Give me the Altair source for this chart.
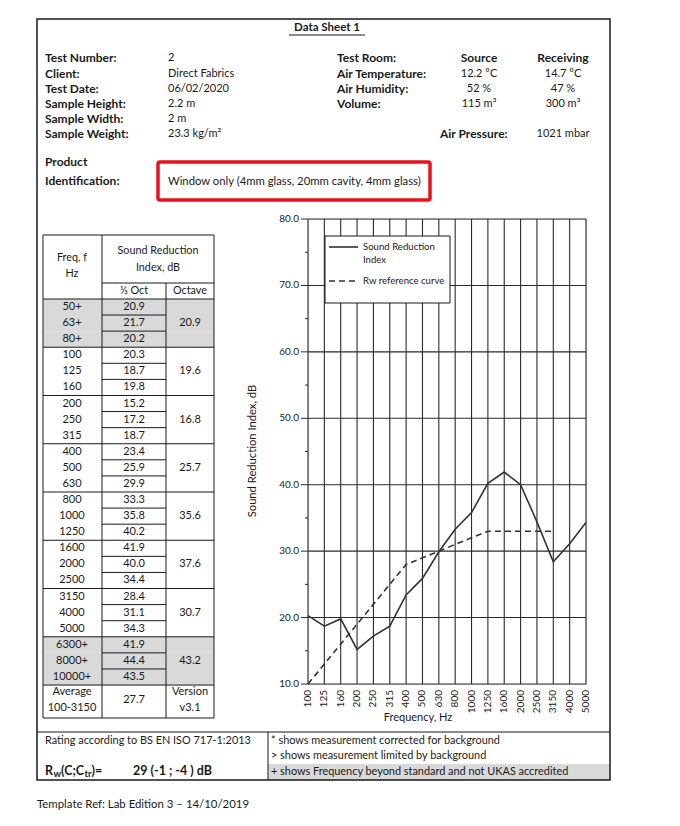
import altair as alt
import pandas as pd

# ---------------- data ----------------
freq_labels = ["50+", "63+", "80+", "100", "125", "160", "200", "250", "315", "400",
               "500", "630", "800", "1000", "1250", "1600", "2000", "2500", "3150",
               "4000", "5000", "6300+", "8000+", "10000+"]
third_octave = [20.9, 21.7, 20.2, 20.3, 18.7, 19.8, 15.2, 17.2, 18.7, 23.4, 25.9, 29.9,
                33.3, 35.8, 40.2, 41.9, 40.0, 34.4, 28.4, 31.1, 34.3, 41.9, 44.4, 43.5]
octave = [20.9, 19.6, 16.8, 25.7, 35.6, 37.6, 30.7, 43.2]
average_100_3150 = 27.7

chart_freqs = ["100", "125", "160", "200", "250", "315", "400", "500", "630", "800",
               "1000", "1250", "1600", "2000", "2500", "3150", "4000", "5000"]
sri_values = [20.3, 18.7, 19.8, 15.2, 17.2, 18.7, 23.4, 25.9, 29.9, 33.3, 35.8, 40.2,
              41.9, 40.0, 34.4, 28.4, 31.1, 34.3]
ref_freqs = ["100", "125", "160", "200", "250", "315", "400", "500", "630", "800",
             "1000", "1250", "1600", "2000", "2500", "3150"]
ref_values = [10, 13, 16, 19, 22, 25, 28, 29, 30, 31, 32, 33, 33, 33, 33, 33]
y_major = [10, 20, 30, 40, 50, 60, 70, 80]
y_minor = [15, 25, 35, 45, 55, 65, 75]

info_labels = ["Test Number:", "Client:", "Test Date:", "Sample Height:", "Sample Width:", "Sample Weight:"]
info_values = ["2", "Direct Fabrics", "06/02/2020", "2.2 m", "2 m", "23.3 kg/m²"]
room_labels = ["Test Room:", "Air Temperature:", "Air Humidity:", "Volume:"]
source_values = ["Source", "12.2 °C", "52 %", "115 m³"]
receiving_values = ["Receiving", "14.7 °C", "47 %", "300 m³"]
notes = ["* shows measurement corrected for background",
         "> shows measurement limited by background",
         "+ shows Frequency beyond standard and not UKAS accredited"]

# ---------------- layout helpers ----------------
FONT = "Lato"
INK = "#1a1a1a"
GRID = "#2b2b2b"
GREY = "#d9d9d9"
OX, OY = 308, 219          # plot-area origin on the page
W, H = 278, 465            # plot-area size
one = pd.DataFrame({"k": [0]})


def txt(s, X, Y, size=11, bold=False, align="left", angle=0, color=INK):
    kw = dict(text=s, align=align, baseline="middle", fontSize=size, font=FONT, color=color)
    if bold:
        kw["fontWeight"] = "bold"
    if angle:
        kw["angle"] = angle
    return alt.Chart(one).mark_text(**kw).encode(x=alt.value(X - OX), y=alt.value(Y - OY))


def hline(X1, X2, Y, color=INK, w=1.0, dash=None):
    kw = dict(color=color, strokeWidth=w)
    if dash:
        kw["strokeDash"] = dash
    return alt.Chart(one).mark_rule(**kw).encode(
        x=alt.value(X1 - OX), x2=alt.value(X2 - OX), y=alt.value(Y - OY))


def vline(X, Y1, Y2, color=INK, w=1.0):
    return alt.Chart(one).mark_rule(color=color, strokeWidth=w).encode(
        x=alt.value(X - OX), y=alt.value(Y1 - OY), y2=alt.value(Y2 - OY))


def box(X1, Y1, X2, Y2, fill=None, stroke=None, w=1.0, radius=0):
    kw = {}
    if fill:
        kw["fill"] = fill
    else:
        kw["fill"] = "white"
        kw["fillOpacity"] = 0
    if stroke:
        kw["stroke"] = stroke
        kw["strokeWidth"] = w
    if radius:
        kw["cornerRadius"] = radius
    return alt.Chart(one).mark_rect(**kw).encode(
        x=alt.value(X1 - OX), x2=alt.value(X2 - OX), y=alt.value(Y1 - OY), y2=alt.value(Y2 - OY))


# ---------------- frequency chart ----------------
xs = alt.Scale(domain=chart_freqs, type="point", padding=0)
ys = alt.Scale(domain=[10, 80], nice=False, zero=False)
XF = alt.X("f:N", scale=xs, axis=None)
YV = alt.Y("v:Q", scale=ys, axis=None)

df_fx = pd.DataFrame({"f": chart_freqs})
df_major = pd.DataFrame({"v": y_major})
df_minor = pd.DataFrame({"v": y_minor})
df_sri = pd.DataFrame({"f": chart_freqs, "v": sri_values, "i": range(len(chart_freqs))})
df_ref = pd.DataFrame({"f": ref_freqs, "v": ref_values, "i": range(len(ref_freqs))})

grid_x = alt.Chart(df_fx).mark_rule(color=GRID, strokeWidth=1.1).encode(x=XF)
grid_y = alt.Chart(df_major).mark_rule(color=GRID, strokeWidth=1.1).encode(y=YV)
tick_major = alt.Chart(df_major).mark_rule(color=GRID, strokeWidth=1).encode(
    y=YV, x=alt.value(-7), x2=alt.value(0))
tick_minor = alt.Chart(df_minor).mark_rule(color=GRID, strokeWidth=1).encode(
    y=YV, x=alt.value(-3), x2=alt.value(0))
y_labels = alt.Chart(df_major).mark_text(
    align="right", baseline="middle", font=FONT, fontSize=10, color=INK).encode(
    y=YV, x=alt.value(-9), text=alt.Text("v:Q", format=".1f"))
x_labels = alt.Chart(df_fx).mark_text(
    align="right", baseline="middle", angle=270, font=FONT, fontSize=10, color=INK).encode(
    x=XF, y=alt.value(H + 6), text="f:N")
sri_line = alt.Chart(df_sri).mark_line(color="#333333", strokeWidth=1.6).encode(
    x=XF, y=YV, order="i:Q")
ref_line = alt.Chart(df_ref).mark_line(color="#333333", strokeWidth=1.6, strokeDash=[6, 4]).encode(
    x=XF, y=YV, order="i:Q")

plot_group = alt.layer(grid_x, grid_y, tick_major, tick_minor, y_labels, x_labels,
                       ref_line, sri_line)

legend = [
    box(325, 236, 450, 303, fill="white", stroke=INK, w=1),
    hline(329, 358, 247, color="#333333", w=1.6),
    txt("Sound Reduction", 363, 247, size=9.6),
    txt("Index", 363, 260, size=9.6),
    hline(329, 358, 281, color="#333333", w=1.6, dash=[6, 4]),
    txt("Rw reference curve", 363, 281, size=9.6),
]
axis_titles = [
    txt("Sound Reduction Index, dB", 253, 451, size=11.2, align="center", angle=270),
    txt("Frequency, Hz", 418, 718, size=11, align="center"),
]

# ---------------- table ----------------
rs = alt.Scale(domain=[0, 23], range=[307 - OY, 677 - OY])
df_tab = pd.DataFrame({"f": freq_labels, "v": third_octave, "r": list(range(len(freq_labels)))})
df_tab["top"] = df_tab["r"] - 0.5
df_tab["bot"] = df_tab["r"] + 0.5
df_oct = pd.DataFrame({"v": octave, "g": list(range(len(octave)))})
df_oct["c"] = df_oct["g"] * 3 + 1
df_oct["b"] = df_oct["g"] * 3 + 2.5

TS = 11
grey_rows = alt.Chart(df_tab).transform_filter("indexof(datum.f, '+') >= 0").mark_rect(
    fill=GREY).encode(y=alt.Y("top:Q", scale=rs, axis=None), y2="bot:Q",
                      x=alt.value(43 - OX), x2=alt.value(214 - OX))
row_lines = alt.Chart(df_tab).transform_filter("datum.r % 3 != 2").mark_rule(
    color=INK, strokeWidth=1).encode(y=alt.Y("bot:Q", scale=rs, axis=None),
                                     x=alt.value(102 - OX), x2=alt.value(166 - OX))
group_lines = alt.Chart(df_oct).mark_rule(color=INK, strokeWidth=1).encode(
    y=alt.Y("b:Q", scale=rs, axis=None), x=alt.value(43 - OX), x2=alt.value(214 - OX))
freq_text = alt.Chart(df_tab).mark_text(
    align="center", baseline="middle", font=FONT, fontSize=TS, color=INK).encode(
    y=alt.Y("r:Q", scale=rs, axis=None), x=alt.value(72 - OX), text="f:N")
val_text = alt.Chart(df_tab).mark_text(
    align="center", baseline="middle", font=FONT, fontSize=TS, color=INK).encode(
    y=alt.Y("r:Q", scale=rs, axis=None), x=alt.value(134 - OX), text=alt.Text("v:Q", format=".1f"))
oct_text = alt.Chart(df_oct).mark_text(
    align="center", baseline="middle", font=FONT, fontSize=TS, color=INK).encode(
    y=alt.Y("c:Q", scale=rs, axis=None), x=alt.value(190 - OX), text=alt.Text("v:Q", format=".1f"))

table_group = alt.layer(grey_rows, row_lines, group_lines, freq_text, val_text, oct_text)

table_static = [
    hline(43, 214, 235), hline(102, 214, 283), hline(43, 214, 299), hline(43, 214, 718),
    vline(43, 235, 718), vline(102, 235, 718), vline(166, 283, 718), vline(214, 235, 718),
    txt("Freq, f", 72, 258, size=10.8, align="center"),
    txt("Hz", 72, 274, size=10.8, align="center"),
    txt("Sound Reduction", 158, 251, size=10.8, align="center"),
    txt("Index, dB", 158, 268, size=10.8, align="center"),
    txt("⅓ Oct", 134, 291, size=10.8, align="center"),
    txt("Octave", 190, 291, size=10.8, align="center"),
    txt("Average", 72, 692, size=TS, align="center"),
    txt("100-3150", 72, 708, size=TS, align="center"),
    txt(f"{average_100_3150:.1f}", 134, 700, size=TS, align="center"),
    txt("Version", 190, 692, size=TS, align="center"),
    txt("v3.1", 190, 708, size=TS, align="center"),
]

# ---------------- header / info ----------------
header = [
    txt("Data Sheet 1", 327, 28, size=11.5, bold=True, align="center"),
    hline(289, 365, 35, w=1),
]
info_y = [58, 74, 89, 104, 119, 134]
LB = 12
for lab, val, yy in zip(info_labels, info_values, info_y):
    header.append(txt(lab, 45, yy, size=LB, bold=True))
    header.append(txt(val, 168, yy, size=11))
for i, (lab, yy) in enumerate(zip(room_labels, info_y[:4])):
    header.append(txt(lab, 337, yy, size=LB, bold=True))
    header.append(txt(source_values[i], 479, yy, size=LB if i == 0 else 11, bold=(i == 0), align="center"))
    header.append(txt(receiving_values[i], 563, yy, size=LB if i == 0 else 11, bold=(i == 0), align="center"))
header += [
    txt("Air Pressure:", 440, 134, size=LB, bold=True),
    txt("1021 mbar", 563, 134, size=11, align="center"),
    txt("Product", 45, 162, size=LB, bold=True),
    txt("Identification:", 45, 181, size=LB, bold=True),
    box(158, 162, 430, 200, stroke="#e8141b", w=3.5, radius=2),
    txt("Window only (4mm glass, 20mm cavity, 4mm glass)", 168, 182, size=11.3),
]

# ---------------- footer ----------------
footer = [
    box(268, 764, 610, 780, fill=GREY),
    box(37, 19, 610, 780, stroke=INK, w=1.5),
    hline(37, 610, 732, w=1.2),
    vline(268, 732, 780, w=1),
    txt("Rating according to BS EN ISO 717-1:2013", 45, 741, size=10.9),
    txt("R", 45, 771, size=12.5, bold=True),
    txt("w", 53.5, 774, size=9.5, bold=True),
    txt("(C;C", 61, 771, size=12.5, bold=True),
    txt("tr", 84.5, 774, size=9.5, bold=True),
    txt(")=", 91.5, 771, size=12.5, bold=True),
    txt("29 (-1 ; -4 ) dB", 133, 771, size=12.5, bold=True),
    txt(notes[0], 271, 741, size=10.9),
    txt(notes[1], 271, 756, size=10.9),
    txt(notes[2], 271, 772, size=10.9),
    txt("Template Ref: Lab Edition 3 – 14/10/2019", 37, 805, size=11.4),
]

chart = alt.layer(
    table_group, plot_group, *legend, *axis_titles, *table_static, *header, *footer
).resolve_scale(y="independent").properties(
    width=W, height=H,
    padding={"left": OX, "top": OY, "right": 680 - OX - W, "bottom": 826 - OY - H},
    autosize=alt.AutoSizeParams(type="none"),
).configure_view(strokeWidth=0).configure(background="white")

chart.save("out.html", embed_options={"renderer": "svg", "actions": False})
